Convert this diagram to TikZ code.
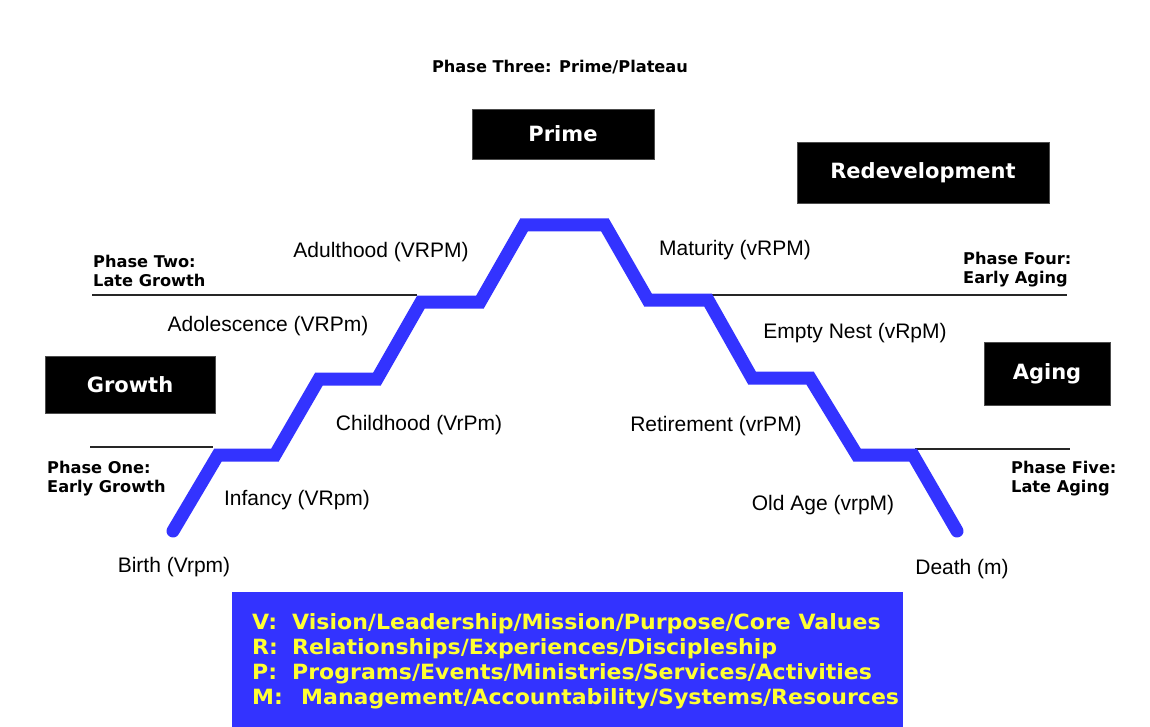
\documentclass[tikz,border=0pt]{standalone}
\usepackage{fontspec}
\setmainfont{Liberation Sans}
\newfontfamily\verd{DejaVu Sans}
\newfontfamily\verdwide[FakeStretch=1.05]{DejaVu Sans}
\definecolor{lineblue}{RGB}{51,51,255}
\definecolor{legyellow}{RGB}{255,255,51}
\begin{document}
\begin{tikzpicture}[x=1pt,y=-1pt,
  stage/.style={inner sep=0pt,font=\fontsize{21}{24}\selectfont},
  phase/.style={inner sep=0pt,align=left,anchor=west,font=\verd\bfseries\fontsize{16.2}{19}\selectfont},
  blackbox/.style={fill=black,draw=black!70,line width=0.8pt,text=white,inner sep=0pt,font=\verd\bfseries\fontsize{21}{24}\selectfont},
  divider/.style={line width=1.4pt,black!85},
  lifeline/.style={lineblue,line width=13pt,line cap=round,line join=miter}]
\useasboundingbox (0,0) rectangle (1150,727);
\fill[white] (0,0) rectangle (1150,727);
% blue life cycle line
\coordinate (p0) at (173,531);
\coordinate (p1) at (218,455);
\coordinate (p2) at (275,455);
\coordinate (p3) at (319,379);
\coordinate (p4) at (377,379);
\coordinate (p5) at (421,302);
\coordinate (p6) at (480,302);
\coordinate (p7) at (524,225);
\coordinate (p8) at (605,225);
\coordinate (p9) at (648,300);
\coordinate (p10) at (708,300);
\coordinate (p11) at (752,378);
\coordinate (p12) at (810,378);
\coordinate (p13) at (857,455);
\coordinate (p14) at (913,455);
\coordinate (p15) at (957,531);
% divider lines
\coordinate (l1a) at (92,295);  \coordinate (l1b) at (417,295);
\coordinate (l2a) at (90,447);  \coordinate (l2b) at (213,447);
\coordinate (r1a) at (710,295); \coordinate (r1b) at (1067,295);
\coordinate (r2a) at (915,449); \coordinate (r2b) at (1070,449);
\draw[divider] (l1a) -- (l1b);
\draw[divider] (l2a) -- (l2b);
\draw[divider] (r1a) -- (r1b);
\draw[divider] (r2a) -- (r2b);
\draw[lifeline] (p0) -- (p1) -- (p2) -- (p3) -- (p4) -- (p5) -- (p6) -- (p7) -- (p8) -- (p9) -- (p10) -- (p11) -- (p12) -- (p13) -- (p14) -- (p15);
% stage labels
\node[stage] (birth) at (174,567) {Birth (Vrpm)};
\node[stage] (infancy) at (297,500) {Infancy (VRpm)};
\node[stage] (child) at (419,425) {Childhood (VrPm)};
\node[stage] (adol) at (268,326) {Adolescence (VRPm)};
\node[stage] (adult) at (381,252) {Adulthood (VRPM)};
\node[stage] (matur) at (735,250) {Maturity (vRPM)};
\node[stage] (empty) at (855,333) {Empty Nest (vRpM)};
\node[stage] (retire) at (716,426) {Retirement (vrPM)};
\node[stage] (old) at (823,505) {Old Age (vrpM)};
\node[stage] (death) at (962,569) {Death (m)};
% phase labels
\node[phase,anchor=center] (ph3) at (560,67) {Phase Three: Prime/Plateau};
\node[phase] (ph2) at (93,270.5) {Phase Two:\\Late Growth};
\node[phase] (ph1) at (47,478.5) {Phase One:\\Early Growth};
\node[phase] (ph4) at (963,270) {Phase Four:\\Early Aging};
\node[phase] (ph5) at (1011,479) {Phase Five:\\Late Aging};
% black boxes
\node[blackbox,minimum width=182pt,minimum height=50pt] (prime) at (563,134) {Prime};
\node[blackbox,minimum width=252pt,minimum height=61pt] (redev) at (923,172.5) {Redevelopment};
\node[blackbox,minimum width=170pt,minimum height=57pt] (growth) at (130,384.5) {Growth};
\node[blackbox,minimum width=126pt,minimum height=63pt] (aging) at (1047,373.5) {Aging};
% legend
\node[fill=lineblue,minimum width=671pt,minimum height=140pt,inner sep=0pt] (legend) at (567.5,662) {};
\node[inner sep=0pt,anchor=west,align=left,text=legyellow,
      font=\verdwide\bfseries\fontsize{21}{25}\selectfont] (legtext) at (252,661)
  {\makebox[40pt][l]{V:}Vision/Leadership/Mission/Purpose/Core Values\\
   \makebox[40pt][l]{R:}Relationships/Experiences/Discipleship\\
   \makebox[40pt][l]{P:}Programs/Events/Ministries/Services/Activities\\
   \makebox[49pt][l]{M:}Management/Accountability/Systems/Resources};
\end{tikzpicture}
\end{document}
